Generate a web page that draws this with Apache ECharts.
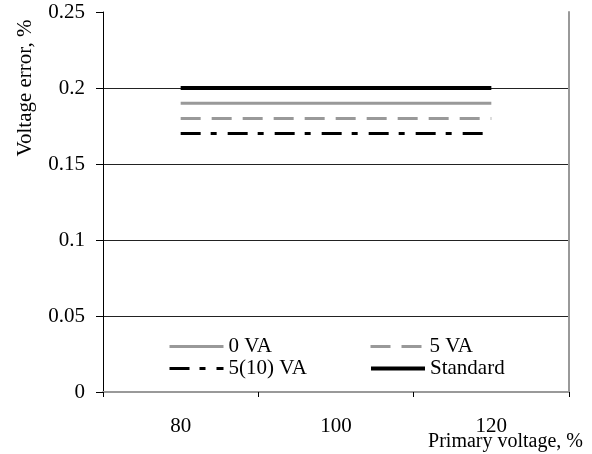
<!DOCTYPE html>
<html>
<head>
<meta charset="utf-8">
<script src="https://cdn.jsdelivr.net/npm/echarts@6/dist/echarts.min.js"></script>
<style>html,body{margin:0;padding:0;background:#fff;}#c{width:592px;height:454px;}</style>
</head>
<body>
<div id="c"></div>
<script>
var categories = ['80', '100', '120'];
var seriesNames = ['0 VA', '5 VA', '5(10) VA', 'Standard'];
var va0 = [0.19, 0.19, 0.19];
var va5 = [0.18, 0.18, 0.18];
var va510 = [0.17, 0.17, 0.17];
var standard = [0.2, 0.2, 0.2];
var yTicks = [0, 0.05, 0.1, 0.15, 0.2, 0.25];

var FONT = 'Liberation Serif';
var chart = echarts.init(document.getElementById('c'), null, {renderer: 'canvas'});

function legendAt(name, left, top, w) {
  return {
    data: [name], left: left, top: top, padding: 0,
    itemWidth: 54, itemHeight: 14, itemGap: 5,
    itemStyle: {opacity: 0, borderWidth: 0},
    lineStyle: {width: w},
    textStyle: {fontFamily: FONT, fontSize: 21, color: '#000'},
    selectedMode: false
  };
}

var option = {
  animation: false,
  backgroundColor: '#fff',
  grid: {left: 103, right: 23, top: 12, bottom: 62},
  legend: [
    legendAt(seriesNames[0], 168, 336, 3),
    legendAt(seriesNames[1], 369, 336, 3),
    legendAt(seriesNames[2], 168, 358, 3),
    legendAt(seriesNames[3], 369, 358, 4)
  ],
  xAxis: [{
    type: 'category', data: categories, boundaryGap: true,
    axisLine: {lineStyle: {color: '#000', width: 1}},
    axisTick: {show: true, inside: false, length: 5, lineStyle: {color: '#000'}},
    axisLabel: {fontFamily: FONT, fontSize: 21, color: '#000', margin: 24},
    splitLine: {show: false}
  }, {
    type: 'category', data: categories, position: 'top',
    axisLine: {show: true, lineStyle: {color: '#999', width: 2}},
    axisTick: {show: false}, axisLabel: {show: false}, splitLine: {show: false}
  }],
  yAxis: [{
    type: 'value', min: yTicks[0], max: yTicks[yTicks.length - 1], interval: 0.05,
    axisLine: {show: true, lineStyle: {color: '#000', width: 1}},
    axisTick: {show: true, inside: false, length: 7, lineStyle: {color: '#000'}},
    axisLabel: {fontFamily: FONT, fontSize: 21, color: '#000', margin: 18},
    splitLine: {show: true, showMaxLine: false, lineStyle: {color: '#222', width: 1}}
  }, {
    type: 'value', min: 0, max: 0.25, interval: 0.05, position: 'right',
    axisLine: {show: true, lineStyle: {color: '#999', width: 2}},
    axisTick: {show: false}, axisLabel: {show: false}, splitLine: {show: false}
  }],
  graphic: [{
    type: 'text', x: 25, y: 88, rotation: Math.PI / 2,
    style: {text: 'Voltage error, %', font: '21px "Liberation Serif"', fill: '#000',
            textAlign: 'center', textVerticalAlign: 'middle'}
  }, {
    type: 'text', right: 9, top: 432,
    style: {text: 'Primary voltage, %', font: '20px "Liberation Serif"', fill: '#000'}
  }],
  series: [{
    name: seriesNames[0], type: 'line', data: va0, symbol: 'none', z: 3,
    lineStyle: {color: '#999', width: 3, type: 'solid'}, itemStyle: {color: '#999'}
  }, {
    name: seriesNames[1], type: 'line', data: va5, symbol: 'none', z: 3,
    lineStyle: {color: '#999', width: 3, type: [20, 11]}, itemStyle: {color: '#999'}
  }, {
    name: seriesNames[2], type: 'line', data: va510, symbol: 'none', z: 3,
    lineStyle: {color: '#000', width: 3, type: [20, 10, 6, 11]}, itemStyle: {color: '#000'}
  }, {
    name: seriesNames[3], type: 'line', data: standard, symbol: 'none', z: 4,
    lineStyle: {color: '#000', width: 4, type: 'solid'}, itemStyle: {color: '#000'}
  }]
};
chart.setOption(option);
</script>
</body>
</html>
